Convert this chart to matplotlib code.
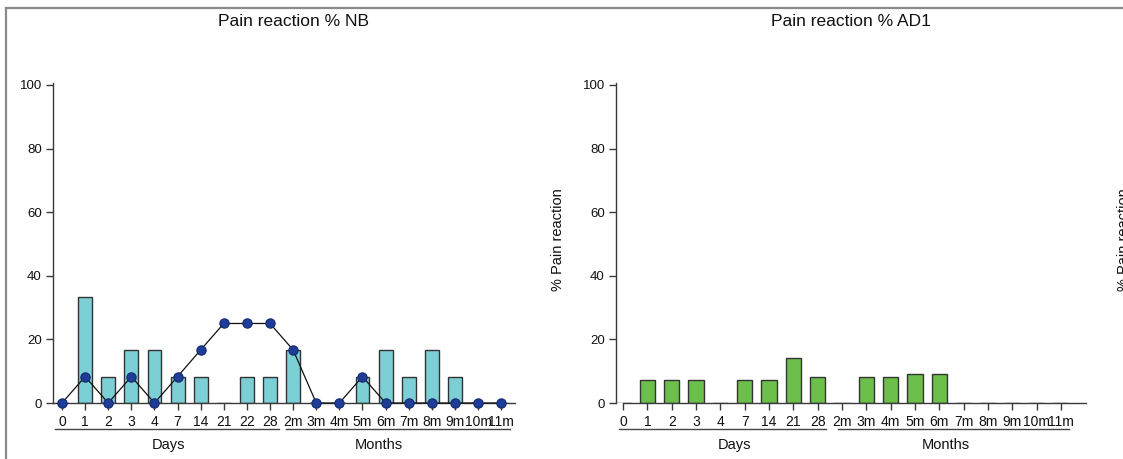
import numpy as np
import matplotlib.pyplot as plt
from matplotlib.lines import Line2D
import matplotlib.transforms as mtransforms

plt.rcParams['font.family'] = ['Liberation Sans', 'DejaVu Sans']

# NB panel
nb_days = ['0', '1', '2', '3', '4', '7', '14', '21', '22', '28']
nb_months = ['2m', '3m', '4m', '5m', '6m', '7m', '8m', '9m', '10m', '11m']
nb_bars = [0, 33.3, 8.3, 16.7, 16.7, 8.3, 8.3, 0, 8.3, 8.3,
           16.7, 0, 0, 8.3, 16.7, 8.3, 16.7, 8.3, 0, 0]
nb_line = [0, 8.3, 0, 8.3, 0, 8.3, 16.7, 25, 25, 25,
           16.7, 0, 0, 8.3, 0, 0, 0, 0, 0, 0]

# AD1 panel
ad_days = ['0', '1', '2', '3', '4', '7', '14', '21', '28']
ad_months = ['2m', '3m', '4m', '5m', '6m', '7m', '8m', '9m', '10m', '11m']
ad_bars = [0, 7.1, 7.1, 7.1, 0, 7.1, 7.1, 14.3, 8.3,
           0, 8.3, 8.3, 9.1, 9.1, 0, 0, 0, 0, 0]

W, H = 1123, 459
fig = plt.figure(figsize=(W / 100, H / 100), dpi=100)

spine_col = '#3a3a3a'


def setup(ax, days, months, xlim, bound_lo, grp_off, lbl_x):
    labels = days + months
    x = np.arange(len(labels))
    ax.set_xlim(*xlim)
    ax.set_ylim(0, 100.6)
    for s in ['top', 'right']:
        ax.spines[s].set_visible(False)
    for s in ['left', 'bottom']:
        ax.spines[s].set_color(spine_col)
        ax.spines[s].set_linewidth(1.0)
    ax.spines['bottom'].set_bounds(bound_lo, xlim[1])
    ax.set_yticks([0, 20, 40, 60, 80, 100])
    ax.set_xticks(x)
    ax.set_xticklabels(labels)
    ax.tick_params(axis='both', direction='out', length=5, width=1,
                   color=spine_col, labelcolor='#111111')
    ax.tick_params(axis='x', pad=4, labelsize=10)
    ax.tick_params(axis='y', pad=3, labelsize=9.5)
    tr = mtransforms.blended_transform_factory(ax.transData, ax.transAxes)
    groups = [(0, len(days) - 1, 'Days'),
              (len(days), len(labels) - 1, 'Months')]
    for (i0, i1, name), lx in zip(groups, lbl_x):
        ax.add_line(Line2D([i0 - grp_off[0], i1 + grp_off[1]], [-0.081, -0.081],
                           transform=tr, color='#444444', lw=1.0, clip_on=False))
        ax.text(lx, -0.131, name, transform=tr, ha='center', va='center',
                fontsize=10.5, color='#111111')
    return x


ax1 = fig.add_axes([53 / W, 1 - 403 / H, (515 - 53) / W, 320 / H])
x1 = setup(ax1, nb_days, nb_months, (-0.39, 19.6), -0.39, (0.3, 0.4), (4.6, 13.7))
ax1.bar(x1, nb_bars, width=0.6, color='#7dcfd6', edgecolor='#333333',
        linewidth=1.0, zorder=2)
ax1.plot(x1, nb_line, '-o', color='#111111', lw=0.9, markersize=6.7,
         markerfacecolor='#1f3c96', markeredgecolor='#14296e',
         markeredgewidth=0.8, zorder=3, clip_on=False)

ax2 = fig.add_axes([616 / W, 1 - 403 / H, (1086 - 616) / W, 320 / H])
x2 = setup(ax2, ad_days, ad_months, (-0.29, 19.03), 0, (0.16, 0.35), (4.57, 13.25))
ax2.bar(x2, ad_bars, width=0.62, color='#6cbf4a', edgecolor='#333333',
        linewidth=1.0, zorder=2)
ax2.set_ylabel('% Pain reaction', fontsize=10.5, color='#111111')
ax2.yaxis.set_label_coords(-0.108, 0.51)

fig.text(293 / W, 1 - 22 / H, 'Pain reaction % NB', ha='center', va='center',
         fontsize=12.5, color='#111111')
fig.text(851 / W, 1 - 22 / H, 'Pain reaction % AD1', ha='center', va='center',
         fontsize=12.5, color='#111111')

# clipped label of the next panel
fig.text(1117 / W, 1 - 240 / H, '% Pain reaction', rotation=90, ha='left',
         va='center', fontsize=10.5, color='#111111')

# outer frame
fig.add_artist(Line2D([6 / W, 1], [1 - 8 / H, 1 - 8 / H], transform=fig.transFigure,
                      color='#8a8a8a', lw=1.6))
fig.add_artist(Line2D([6 / W, 6 / W], [0, 1 - 8 / H], transform=fig.transFigure,
                      color='#8a8a8a', lw=1.6))

fig.savefig('out.png', dpi=100)
